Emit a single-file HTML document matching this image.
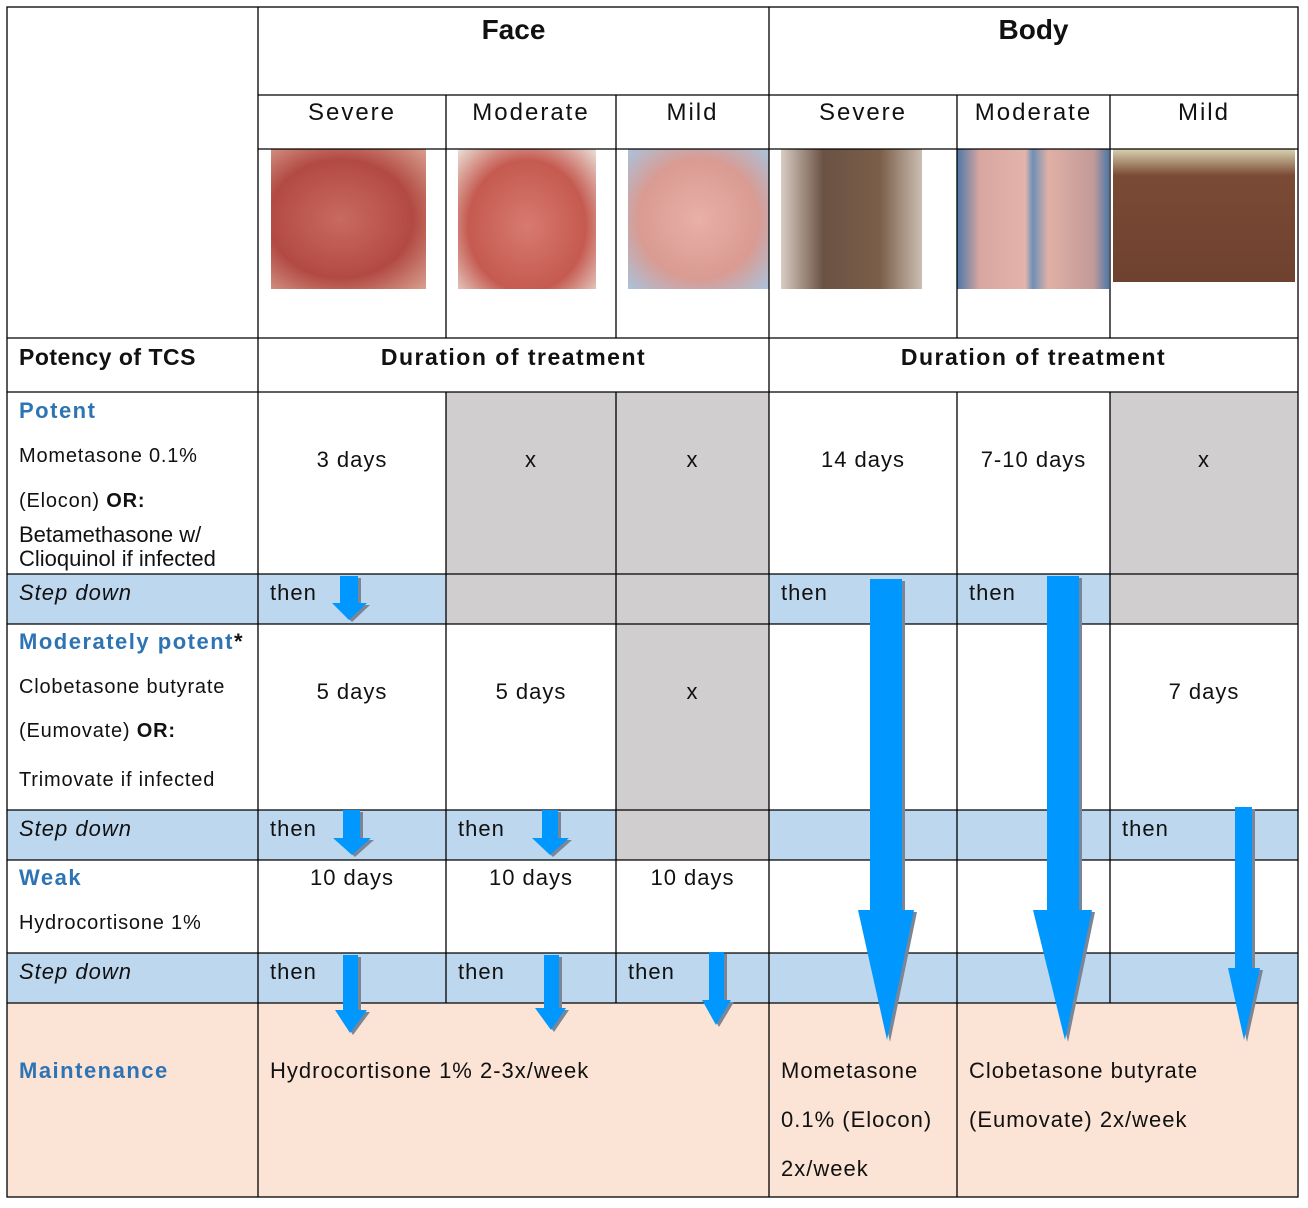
<!DOCTYPE html>
<html><head><meta charset="utf-8"><style>
body{margin:0;width:1308px;height:1208px;background:#fff;position:relative;font-family:"Liberation Sans","DejaVu Sans",sans-serif;color:#111;overflow:hidden}
.c{position:absolute;box-sizing:border-box}
.t{position:absolute;font-size:22px;letter-spacing:1px;white-space:nowrap}
.l{font-size:20px;letter-spacing:0.8px}
.b{font-weight:bold}
.h{color:#2e74b5;font-weight:bold;letter-spacing:1.5px}
.i{font-style:italic}
.ctr{text-align:center}
.sv{font-size:24px;letter-spacing:2px}
</style></head><body>
<div class="c" style="left:7px;top:574px;width:1291px;height:50px;background:#bdd7ee"></div>
<div class="c" style="left:7px;top:810px;width:1291px;height:50px;background:#bdd7ee"></div>
<div class="c" style="left:7px;top:953px;width:1291px;height:50px;background:#bdd7ee"></div>
<div class="c" style="left:7px;top:1003px;width:1291px;height:194px;background:#fbe4d5"></div>
<div class="c" style="left:446px;top:392px;width:323px;height:232px;background:#d0cece"></div>
<div class="c" style="left:1110px;top:392px;width:188px;height:232px;background:#d0cece"></div>
<div class="c" style="left:616px;top:624px;width:153px;height:236px;background:#d0cece"></div>
<div class="c" style="left:271px;top:149px;width:155px;height:140px;background:radial-gradient(ellipse at 45% 50%,#c86a5f,#b24a43 60%,#d9a08f)"></div>
<div class="c" style="left:458px;top:149px;width:138px;height:140px;background:radial-gradient(ellipse at 50% 55%,#d77a70,#c55a50 60%,#eae0d8)"></div>
<div class="c" style="left:628px;top:149px;width:141px;height:140px;background:radial-gradient(ellipse at 50% 50%,#e8b0a8,#d99b92 60%,#a9c3dc)"></div>
<div class="c" style="left:781px;top:149px;width:141px;height:140px;background:linear-gradient(90deg,#d8ccc4,#6b5244 30%,#7a5e48 70%,#cbbdb2)"></div>
<div class="c" style="left:957px;top:149px;width:152px;height:140px;background:linear-gradient(90deg,#4d78a8,#d9a6a0 15%,#e2b4ac 45%,#6e90b8 50%,#e0b0a6 60%,#c29a98 90%,#4d78a8)"></div>
<div class="c" style="left:1113px;top:149px;width:182px;height:133px;background:linear-gradient(180deg,#d8d2b0,#7a4a34 20%,#6e4230 100%)"></div>
<svg class="c" style="left:0;top:0" width="1308" height="1208">
<g stroke="#000" stroke-width="1.3" fill="none">
<rect x="7" y="7" width="1291" height="1190"/>
<line x1="258" y1="7" x2="258" y2="1197"/>
<line x1="769" y1="7" x2="769" y2="1197"/>
<line x1="446" y1="95" x2="446" y2="338"/>
<line x1="446" y1="392" x2="446" y2="1003"/>
<line x1="616" y1="95" x2="616" y2="338"/>
<line x1="616" y1="392" x2="616" y2="1003"/>
<line x1="957" y1="95" x2="957" y2="338"/>
<line x1="957" y1="392" x2="957" y2="1197"/>
<line x1="1110" y1="95" x2="1110" y2="338"/>
<line x1="1110" y1="392" x2="1110" y2="1003"/>
<line x1="258" y1="95" x2="1298" y2="95"/>
<line x1="258" y1="149" x2="1298" y2="149"/>
<line x1="7" y1="338" x2="1298" y2="338"/>
<line x1="7" y1="392" x2="1298" y2="392"/>
<line x1="7" y1="574" x2="1298" y2="574"/>
<line x1="7" y1="624" x2="1298" y2="624"/>
<line x1="7" y1="810" x2="1298" y2="810"/>
<line x1="7" y1="860" x2="1298" y2="860"/>
<line x1="7" y1="953" x2="1298" y2="953"/>
<line x1="7" y1="1003" x2="1298" y2="1003"/>
</g>
</svg>
<div class="t b ctr" style="left:258px;width:511px;top:14px;font-size:28px;letter-spacing:0">Face</div>
<div class="t b ctr" style="left:769px;width:529px;top:14px;font-size:28px;letter-spacing:0">Body</div>
<div class="t ctr sv" style="left:258px;width:188px;top:99px">Severe</div>
<div class="t ctr sv" style="left:446px;width:170px;top:99px">Moderate</div>
<div class="t ctr sv" style="left:616px;width:153px;top:99px">Mild</div>
<div class="t ctr sv" style="left:769px;width:188px;top:99px">Severe</div>
<div class="t ctr sv" style="left:957px;width:153px;top:99px">Moderate</div>
<div class="t ctr sv" style="left:1110px;width:188px;top:99px">Mild</div>
<div class="t b" style="left:19px;top:344px;font-size:23px;letter-spacing:0.5px">Potency of TCS</div>
<div class="t b ctr" style="left:258px;width:511px;top:344px;font-size:23px;letter-spacing:1.5px">Duration of treatment</div>
<div class="t b ctr" style="left:769px;width:529px;top:344px;font-size:23px;letter-spacing:1.5px">Duration of treatment</div>
<div class="t h" style="left:19px;top:398px">Potent</div>
<div class="t l" style="left:19px;top:445px">Mometasone 0.1%</div>
<div class="t l" style="left:19px;top:490px">(Elocon) <b>OR:</b></div>
<div class="t" style="left:19px;top:522px;letter-spacing:0">Betamethasone w/</div>
<div class="t" style="left:19px;top:546px;letter-spacing:0">Clioquinol if infected</div>
<div class="t ctr" style="left:258px;width:188px;top:447px">3 days</div>
<div class="t ctr" style="left:446px;width:170px;top:447px">x</div>
<div class="t ctr" style="left:616px;width:153px;top:447px">x</div>
<div class="t ctr" style="left:769px;width:188px;top:447px">14 days</div>
<div class="t ctr" style="left:957px;width:153px;top:447px">7-10 days</div>
<div class="t ctr" style="left:1110px;width:188px;top:447px">x</div>
<div class="t i" style="left:19px;top:580px">Step down</div>
<div class="t" style="left:270px;top:580px">then</div>
<div class="t" style="left:781px;top:580px">then</div>
<div class="t" style="left:969px;top:580px">then</div>
<div class="t h" style="left:19px;top:629px">Moderately potent<span style="color:#111">*</span></div>
<div class="t l" style="left:19px;top:676px">Clobetasone butyrate</div>
<div class="t l" style="left:19px;top:720px">(Eumovate) <b>OR:</b></div>
<div class="t l" style="left:19px;top:769px">Trimovate if infected</div>
<div class="t ctr" style="left:258px;width:188px;top:679px">5 days</div>
<div class="t ctr" style="left:446px;width:170px;top:679px">5 days</div>
<div class="t ctr" style="left:616px;width:153px;top:679px">x</div>
<div class="t ctr" style="left:1110px;width:188px;top:679px">7 days</div>
<div class="t i" style="left:19px;top:816px">Step down</div>
<div class="t" style="left:270px;top:816px">then</div>
<div class="t" style="left:458px;top:816px">then</div>
<div class="t" style="left:1122px;top:816px">then</div>
<div class="t h" style="left:19px;top:865px">Weak</div>
<div class="t l" style="left:19px;top:912px">Hydrocortisone 1%</div>
<div class="t ctr" style="left:258px;width:188px;top:865px">10 days</div>
<div class="t ctr" style="left:446px;width:170px;top:865px">10 days</div>
<div class="t ctr" style="left:616px;width:153px;top:865px">10 days</div>
<div class="t i" style="left:19px;top:959px">Step down</div>
<div class="t" style="left:270px;top:959px">then</div>
<div class="t" style="left:458px;top:959px">then</div>
<div class="t" style="left:628px;top:959px">then</div>
<div class="t h" style="left:19px;top:1058px">Maintenance</div>
<div class="t" style="left:270px;top:1058px">Hydrocortisone 1% 2-3x/week</div>
<div class="t" style="left:781px;top:1058px">Mometasone</div>
<div class="t" style="left:781px;top:1107px">0.1% (Elocon)</div>
<div class="t" style="left:781px;top:1156px">2x/week</div>
<div class="t" style="left:969px;top:1058px">Clobetasone butyrate</div>
<div class="t" style="left:969px;top:1107px">(Eumovate) 2x/week</div>
<svg class="c" style="left:0;top:0" width="1308" height="1208">
<g fill="#7a8696" transform="translate(3,2)">
<polygon points="870,579 902,579 902,910 914,910 887,1040 858,910 870,910"/>
<polygon points="1047,576 1079,576 1079,910 1092,910 1065,1040 1033,910 1047,910"/>
<polygon points="1235,807 1252,807 1252,968 1260,968 1244,1040 1228,968 1235,968"/>
<polygon points="340,576 358,576 358,603 367,603 349,620 332,603 340,603"/>
<polygon points="343,810 360,810 360,838 371,838 352,855 333,838 343,838"/>
<polygon points="542,810 558,810 558,838 569,838 550,855 532,838 542,838"/>
<polygon points="343,955 358,955 358,1010 367,1010 350,1033 335,1010 343,1010"/>
<polygon points="544,955 559,955 559,1008 566,1008 551,1030 535,1008 544,1008"/>
<polygon points="709,952 724,952 724,1000 731,1000 716,1025 702,1000 709,1000"/>
</g>
<g fill="#0098ff">
<polygon points="870,579 902,579 902,910 914,910 887,1040 858,910 870,910"/>
<polygon points="1047,576 1079,576 1079,910 1092,910 1065,1040 1033,910 1047,910"/>
<polygon points="1235,807 1252,807 1252,968 1260,968 1244,1040 1228,968 1235,968"/>
<polygon points="340,576 358,576 358,603 367,603 349,620 332,603 340,603"/>
<polygon points="343,810 360,810 360,838 371,838 352,855 333,838 343,838"/>
<polygon points="542,810 558,810 558,838 569,838 550,855 532,838 542,838"/>
<polygon points="343,955 358,955 358,1010 367,1010 350,1033 335,1010 343,1010"/>
<polygon points="544,955 559,955 559,1008 566,1008 551,1030 535,1008 544,1008"/>
<polygon points="709,952 724,952 724,1000 731,1000 716,1025 702,1000 709,1000"/>
</g>
</svg>
</body></html>
